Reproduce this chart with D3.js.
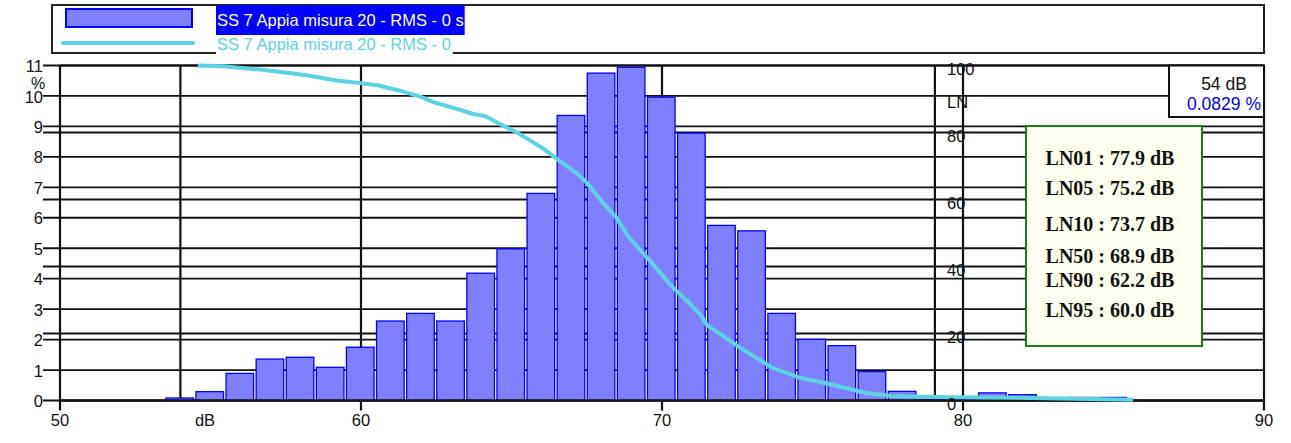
<!DOCTYPE html>
<html lang="en">
<head>
<meta charset="utf-8">
<title>SS 7 Appia misura 20 - distribuzione livelli</title>
<script src="https://d3js.org/d3.v7.min.js"></script>
<style>
  body { margin: 0; background: #fff; }
  svg text { font-family: "Liberation Sans", Arial, sans-serif; }
</style>
</head>
<body>
<script>
// --- data ---
const binDb = [54, 55, 56, 57, 58, 59, 60, 61, 62, 63, 64, 65, 66, 67, 68, 69,
  70, 71, 72, 73, 74, 75, 76, 77, 78, 79, 80, 81, 82, 83, 84, 85];
const binPct = [0.0829, 0.29, 0.89, 1.36, 1.42, 1.09, 1.75, 2.61, 2.86, 2.61, 4.18, 4.98,
  6.80, 9.36, 10.75, 10.94, 9.96, 8.78, 5.75, 5.57, 2.86, 2.01, 1.80, 0.95,
  0.30, 0.04, 0.04, 0.25, 0.19, 0.08, 0.10, 0.10];

// cumulative LN curve (dB, % exceeded)
const curveDb = [54.58, 55.41, 56.73, 58.19, 59.19, 59.95, 60.55, 61.37, 61.94, 62.50,
  63.17, 63.70, 64.16, 64.49, 64.93, 65.26, 66.02, 66.42, 67.15, 67.51, 68.01, 68.47,
  68.84, 69.34, 69.67, 70.33, 70.90, 71.29, 71.49, 71.89, 72.55, 73.65, 74.54, 75.64,
  76.77, 77.63, 78.96, 82.27, 85.65];
const curveLn = [100, 99.8, 98.7, 97.1, 95.5, 94.8, 94.1, 92.3, 90.8, 88.8,
  87.1, 85.6, 84.8, 83.1, 81.1, 79.6, 75.4, 72.7, 67.9, 64.9, 59.3, 54.8,
  49.4, 44.3, 41.0, 34.0, 29.1, 25.5, 22.5, 20.1, 16.0, 9.85, 6.87, 4.78,
  2.24, 1.34, 1.04, 0.75, 0.24];

const pctTicks = [0, 1, 2, 3, 4, 5, 6, 7, 8, 9, 10, 11];
const lnTicks = [0, 20, 40, 60, 80, 100];
const dbTicks = [50, 60, 70, 80, 90];
const lnAxisDb = 79;       // where the LN axis sits
const cursorDb = 54;
const cursorPct = "0.0829 %";
const seriesName = "SS 7 Appia misura 20 - RMS - 0";
const lnLabels = ["LN01 : 77.9 dB", "LN05 : 75.2 dB", "LN10 : 73.7 dB",
  "LN50 : 68.9 dB", "LN90 : 62.2 dB", "LN95 : 60.0 dB"];

// --- layout ---
const W = 1291, H = 443;
const pLeft = 60, pRight = 1264, pTop = 65.5, pBottom = 400.5;
const barFill = "#8080ff", barStroke = "#0000ff", curveCol = "#5cd3e0";
const lnRowY = [165, 195, 231, 263, 287, 317];

const x = d3.scaleLinear().domain([50, 90]).range([pLeft, pRight]);
const yPct = d3.scaleLinear().domain([0, 11]).range([pBottom, pTop]);
const yLn = d3.scaleLinear().domain([0, 100]).range([pBottom, pTop]);

const svg = d3.select("body").append("svg")
  .attr("width", W).attr("height", H);

// legend
const leg = svg.append("g");
leg.append("rect").attr("x", 52).attr("y", 5).attr("width", 1212).attr("height", 48)
  .attr("fill", "#fff").attr("stroke", "#222").attr("stroke-width", 2);
leg.append("rect").attr("x", 66).attr("y", 9).attr("width", 126).attr("height", 18)
  .attr("fill", barFill).attr("stroke", barStroke).attr("stroke-width", 2);
const bg1 = leg.append("rect").attr("x", 216).attr("y", 5).attr("height", 30).attr("fill", "#0000ff");
const t1 = leg.append("text").attr("x", 217).attr("y", 26)
  .attr("font-size", 16.5).attr("fill", "#fff").text(seriesName + " s");
bg1.attr("width", t1.node().getBBox().width + 2);
leg.append("line").attr("x1", 63).attr("x2", 193).attr("y1", 43).attr("y2", 43)
  .attr("stroke", curveCol).attr("stroke-width", 4).attr("stroke-linecap", "round");
const bg2 = leg.append("rect").attr("x", 216).attr("y", 35).attr("height", 20).attr("fill", "#fff");
const t2 = leg.append("text").attr("x", 217).attr("y", 50)
  .attr("font-size", 16.5).attr("fill", curveCol).text(seriesName);
bg2.attr("width", t2.node().getBBox().width + 3);

// horizontal grid (% ticks and LN ticks)
const grid = svg.append("g").attr("stroke", "#111").attr("stroke-width", 1.8);
grid.selectAll("line.p").data(pctTicks).join("line").attr("class", "p")
  .attr("x1", 43).attr("x2", pRight)
  .attr("y1", d => yPct(d)).attr("y2", d => yPct(d));
grid.selectAll("line.l").data(lnTicks.filter(d => d > 0 && d < 100)).join("line").attr("class", "l")
  .attr("x1", 43).attr("x2", pRight)
  .attr("y1", d => yLn(d)).attr("y2", d => yLn(d));

// vertical grid
grid.selectAll("line.v").data(dbTicks).join("line").attr("class", "v")
  .attr("x1", d => x(d)).attr("x2", d => x(d))
  .attr("y1", pTop).attr("y2", pBottom + 10).attr("stroke-width", 2.2);
grid.append("line").attr("x1", x(cursorDb)).attr("x2", x(cursorDb))
  .attr("y1", pTop).attr("y2", pBottom).attr("stroke-width", 2.2);
grid.append("line").attr("x1", x(lnAxisDb) + 2).attr("x2", x(lnAxisDb) + 2)
  .attr("y1", pTop).attr("y2", pBottom).attr("stroke-width", 2.2);

// bars
svg.append("g").selectAll("rect").data(binDb).join("rect")
  .attr("x", d => x(d - 0.5) + 0.5)
  .attr("width", d => x(d + 0.5) - x(d - 0.5) - 2.5)
  .attr("y", (d, i) => yPct(binPct[i]))
  .attr("height", (d, i) => pBottom - yPct(binPct[i]))
  .attr("fill", barFill).attr("stroke", barStroke).attr("stroke-width", 1.3);

// top border + bottom axis line
svg.append("line").attr("x1", pLeft).attr("x2", pRight).attr("y1", pTop).attr("y2", pTop)
  .attr("stroke", "#111").attr("stroke-width", 2);
svg.append("line").attr("x1", pLeft).attr("x2", pRight).attr("y1", pBottom).attr("y2", pBottom)
  .attr("stroke", "#111").attr("stroke-width", 2.6);

// LN curve
const pts = curveDb.map((d, i) => [d, curveLn[i]]);
svg.append("path").datum(pts)
  .attr("d", d3.line().x(d => x(d[0])).y(d => yLn(d[1])))
  .attr("fill", "none").attr("stroke", curveCol).attr("stroke-width", 4)
  .attr("stroke-linejoin", "round");

// left % labels
svg.append("g").selectAll("text").data(pctTicks).join("text")
  .attr("x", 43).attr("y", d => yPct(d)).attr("dy", "0.4em")
  .attr("text-anchor", "end").attr("font-size", 16.5).attr("fill", "#111")
  .text(d => d);
svg.append("text").attr("x", 38).attr("y", 89).attr("text-anchor", "middle")
  .attr("font-size", 16).attr("fill", "#111").text("%");

// LN axis labels
svg.append("g").selectAll("text").data(lnTicks).join("text")
  .attr("x", 947).attr("y", d => yLn(d)).attr("dy", "0.58em")
  .attr("font-size", 16.5).attr("fill", "#111")
  .text(d => d);
svg.append("text").attr("x", 947).attr("y", 108)
  .attr("font-size", 16.5).attr("fill", "#111").text("LN");

// x labels
svg.append("g").selectAll("text").data(dbTicks).join("text")
  .attr("x", d => x(d)).attr("y", 426).attr("text-anchor", "middle")
  .attr("font-size", 16.5).attr("fill", "#111").text(d => d);
svg.append("text").attr("x", 205).attr("y", 426).attr("text-anchor", "middle")
  .attr("font-size", 16.5).attr("fill", "#111").text("dB");

// cursor box
const cb = svg.append("g");
cb.append("rect").attr("x", 1169).attr("y", pTop).attr("width", pRight - 1169).attr("height", 117 - pTop)
  .attr("fill", "#fff").attr("stroke", "#111").attr("stroke-width", 2);
cb.append("text").attr("x", 1224).attr("y", 90).attr("text-anchor", "middle")
  .attr("font-size", 17.5).attr("fill", "#111").text(cursorDb + " dB");
cb.append("text").attr("x", 1224).attr("y", 110).attr("text-anchor", "middle")
  .attr("font-size", 17.5).attr("fill", "#0000ff").text(cursorPct);

// LN summary box
const lb = svg.append("g");
lb.append("rect").attr("x", 1026).attr("y", 126).attr("width", 176).attr("height", 220)
  .attr("fill", "#fffff0").attr("stroke", "#1e7a1e").attr("stroke-width", 2);
lb.selectAll("text").data(lnLabels).join("text")
  .attr("x", 1110).attr("y", (d, i) => lnRowY[i]).attr("text-anchor", "middle")
  .style("font-family", '"Liberation Serif", "Times New Roman", serif')
  .attr("font-weight", "bold").attr("font-size", 20).attr("fill", "#111")
  .text(d => d);
</script>
</body>
</html>
